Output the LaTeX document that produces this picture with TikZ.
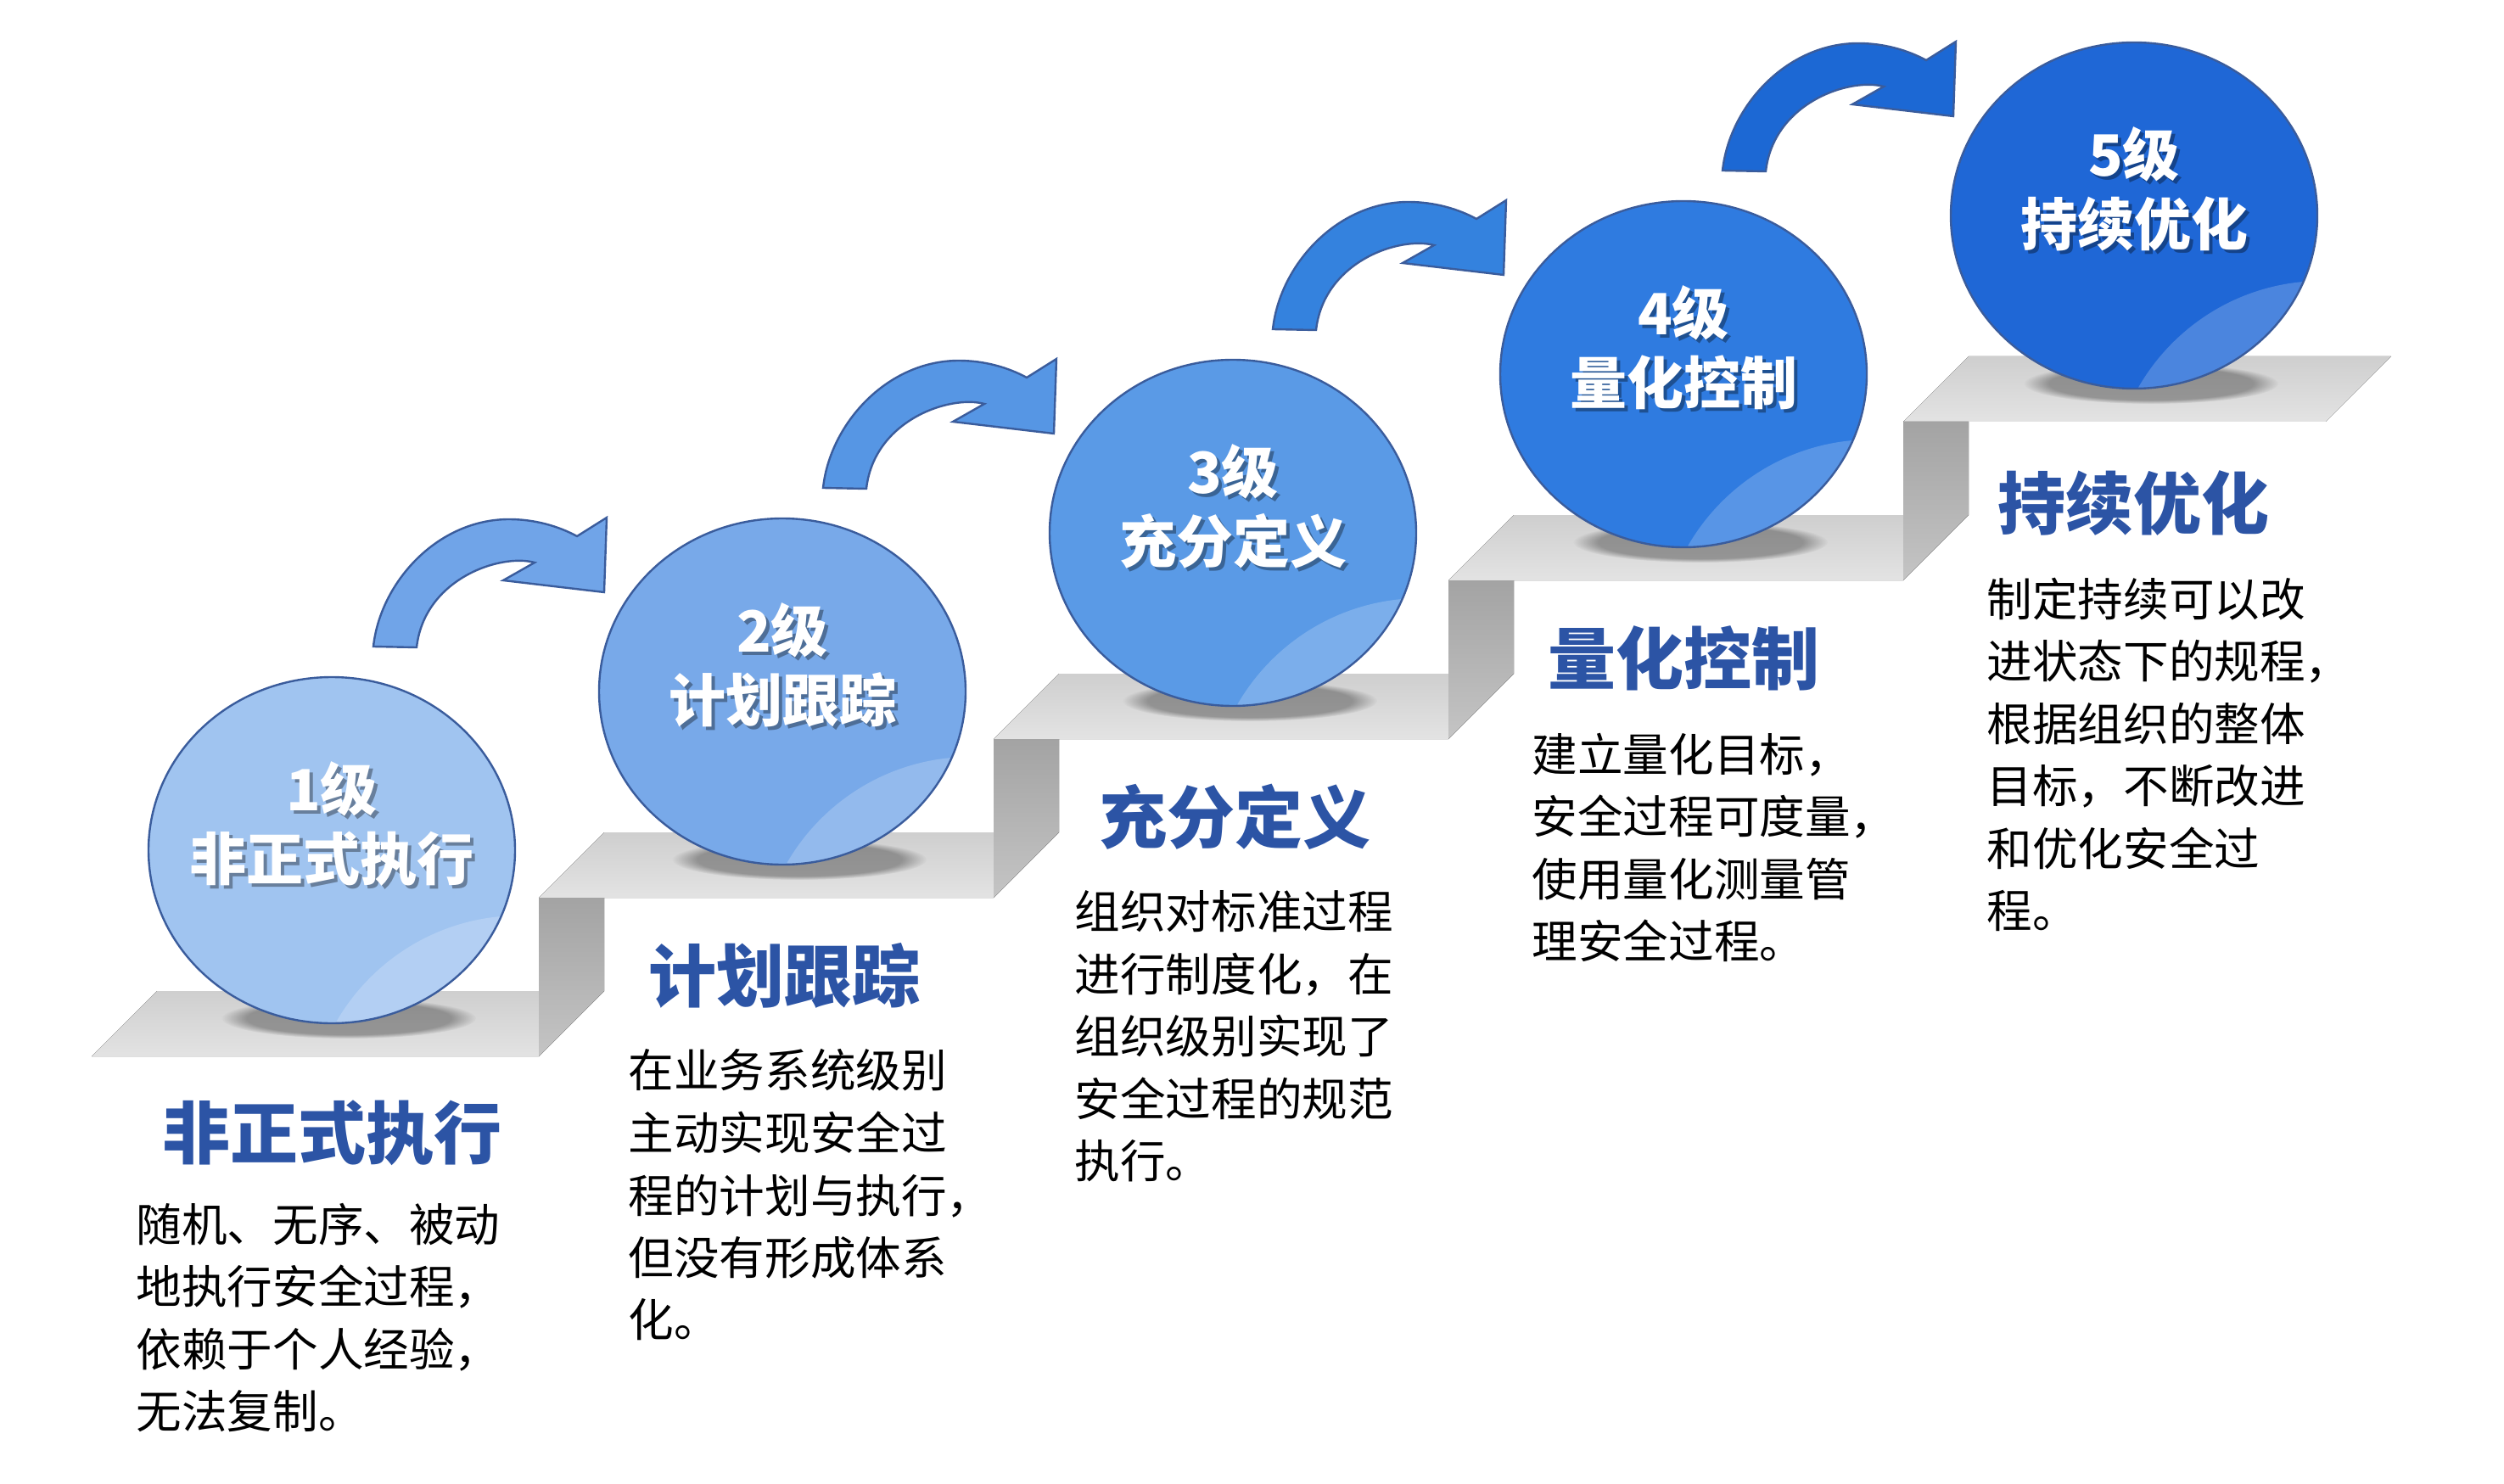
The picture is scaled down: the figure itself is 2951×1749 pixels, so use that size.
\documentclass[tikz,border=0pt]{standalone}
\usepackage{fontspec}
\setmainfont{Noto Sans CJK SC}
\usetikzlibrary{fadings}

\definecolor{lvA}{RGB}{160,196,240}
\definecolor{lvB}{RGB}{120,169,233}
\definecolor{lvC}{RGB}{90,154,230}
\definecolor{lvD}{RGB}{47,123,224}
\definecolor{lvE}{RGB}{31,103,214}
\definecolor{arA}{RGB}{112,164,232}
\definecolor{arB}{RGB}{86,150,228}
\definecolor{arC}{RGB}{52,130,222}
\definecolor{arD}{RGB}{28,104,212}
\definecolor{rimblue}{RGB}{58,92,156}
\definecolor{stepblue}{RGB}{44,84,165}

\tikzset{every picture/.style={line width=0.75pt}}
\tikzset{
  tread/.style={top color=gray!38, bottom color=gray!22, draw=none},
  riser/.style={top color=gray!72, bottom color=gray!46, draw=none},
  ballshadow/.style={fill=black, fill opacity=0.32, path fading=circle with fuzzy edge 20 percent},
  ballrim/.style={draw=rimblue, line width=1.2},
  glare/.style={fill=white, fill opacity=0.2},
  arrowbody/.style={draw=rimblue, line width=1.2},
  lvtext/.style={text=white, font=\fontsize{33.5}{41}\selectfont\bfseries, align=center, inner sep=0pt},
  lvshade/.style={lvtext, text=black, text opacity=0.35},
  steptitle/.style={text=stepblue, font=\fontsize{40}{48}\selectfont\bfseries, inner sep=0pt},
  steptext/.style={anchor=north west, align=left, inner sep=0pt, font=\fontsize{26.8}{36.75}\selectfont}
}

\begin{document}
\begin{tikzpicture}[x=0.5pt,y=0.5pt,yscale=-1,xscale=1]
	\useasboundingbox (0,0) rectangle (2951,1749);
	
	%Shape: Treads
	\fill [tread] (108,1245) -- (635,1245) -- (712,1168) -- (185,1168) -- cycle ;
	\fill [tread] (635,1058) -- (1171,1058) -- (1248,981) -- (712,981) -- cycle ;
	\fill [tread] (1171,871) -- (1707,871) -- (1784,794) -- (1248,794) -- cycle ;
	\fill [tread] (1707,684) -- (2243,684) -- (2320,607) -- (1784,607) -- cycle ;
	\fill [tread] (2243,497) -- (2741,497) -- (2818,420) -- (2320,420) -- cycle ;
	%Shape: Risers
	\fill [riser] (635,1245) -- (712,1168) -- (712,1058) -- (635,1058) -- cycle ;
	\fill [riser] (1171,1058) -- (1248,981) -- (1248,871) -- (1171,871) -- cycle ;
	\fill [riser] (1707,871) -- (1784,794) -- (1784,684) -- (1707,684) -- cycle ;
	\fill [riser] (2243,684) -- (2320,607) -- (2320,497) -- (2243,497) -- cycle ;
	
	%Shape: Ball shadows
	\fill [ballshadow] (411,1200) ellipse [x radius=150, y radius=24] ;
	\fill [ballshadow] (942,1013) ellipse [x radius=150, y radius=24] ;
	\fill [ballshadow] (1473,826) ellipse [x radius=150, y radius=24] ;
	\fill [ballshadow] (2004,639) ellipse [x radius=150, y radius=24] ;
	\fill [ballshadow] (2535,452) ellipse [x radius=150, y radius=24] ;
	
	%Shape: Circle [level 1]
	\fill [lvA] (391,1002) ellipse [x radius=216, y radius=204] ;
	\begin{scope}
		\clip (391,1002) ellipse [x radius=216, y radius=204] ;
		\fill [glare] (613,1329) circle [radius=250] ;
	\end{scope}
	\draw [ballrim] (391,1002) ellipse [x radius=216, y radius=204] ;
	%Shape: Circle [level 2]
	\fill [lvB] (922,815) ellipse [x radius=216, y radius=204] ;
	\begin{scope}
		\clip (922,815) ellipse [x radius=216, y radius=204] ;
		\fill [glare] (1144,1142) circle [radius=250] ;
	\end{scope}
	\draw [ballrim] (922,815) ellipse [x radius=216, y radius=204] ;
	%Shape: Circle [level 3]
	\fill [lvC] (1453,628) ellipse [x radius=216, y radius=204] ;
	\begin{scope}
		\clip (1453,628) ellipse [x radius=216, y radius=204] ;
		\fill [glare] (1675,955) circle [radius=250] ;
	\end{scope}
	\draw [ballrim] (1453,628) ellipse [x radius=216, y radius=204] ;
	%Shape: Circle [level 4]
	\fill [lvD] (1984,441) ellipse [x radius=216, y radius=204] ;
	\begin{scope}
		\clip (1984,441) ellipse [x radius=216, y radius=204] ;
		\fill [glare] (2206,768) circle [radius=250] ;
	\end{scope}
	\draw [ballrim] (1984,441) ellipse [x radius=216, y radius=204] ;
	%Shape: Circle [level 5]
	\fill [lvE] (2515,254) ellipse [x radius=216, y radius=204] ;
	\begin{scope}
		\clip (2515,254) ellipse [x radius=216, y radius=204] ;
		\fill [glare] (2737,581) circle [radius=250] ;
	\end{scope}
	\draw [ballrim] (2515,254) ellipse [x radius=216, y radius=204] ;
	
	%Shape: Curved Arrows
	\draw [arrowbody, fill=arA, shift={(440,762)}] (0,0) .. controls (8,-75) and (75,-150) .. (160,-150) .. controls (190,-150) and (218,-142) .. (240,-130) -- (275,-152) -- (272,-64) -- (153,-78) -- (190,-99) .. controls (150,-110) and (60,-80) .. (51,1) -- cycle ;
	\draw [arrowbody, fill=arB, shift={(970,575)}] (0,0) .. controls (8,-75) and (75,-150) .. (160,-150) .. controls (190,-150) and (218,-142) .. (240,-130) -- (275,-152) -- (272,-64) -- (153,-78) -- (190,-99) .. controls (150,-110) and (60,-80) .. (51,1) -- cycle ;
	\draw [arrowbody, fill=arC, shift={(1500,388)}] (0,0) .. controls (8,-75) and (75,-150) .. (160,-150) .. controls (190,-150) and (218,-142) .. (240,-130) -- (275,-152) -- (272,-64) -- (153,-78) -- (190,-99) .. controls (150,-110) and (60,-80) .. (51,1) -- cycle ;
	\draw [arrowbody, fill=arD, shift={(2030,201)}] (0,0) .. controls (8,-75) and (75,-150) .. (160,-150) .. controls (190,-150) and (218,-142) .. (240,-130) -- (275,-152) -- (272,-64) -- (153,-78) -- (190,-99) .. controls (150,-110) and (60,-80) .. (51,1) -- cycle ;
	
	% Text Node
	\node [lvshade] (lvonesh) at (395,975) {1级\\非正式执行};
	\node [lvtext] (lvone) at (391,971) {1级\\非正式执行};
	% Text Node
	\node [lvshade] (lvtwosh) at (926,788) {2级\\计划跟踪};
	\node [lvtext] (lvtwo) at (922,784) {2级\\计划跟踪};
	% Text Node
	\node [lvshade] (lvthreesh) at (1457,601) {3级\\充分定义};
	\node [lvtext] (lvthree) at (1453,597) {3级\\充分定义};
	% Text Node
	\node [lvshade] (lvfoursh) at (1988,414) {4级\\量化控制};
	\node [lvtext] (lvfour) at (1984,410) {4级\\量化控制};
	% Text Node
	\node [lvshade] (lvfivesh) at (2519,227) {5级\\持续优化};
	\node [lvtext] (lvfive) at (2515,223) {5级\\持续优化};
	
	% Text Node
	\node [steptitle] (titleone) at (391,1335) {非正式执行};
	\node [steptext] (textone) at (160,1417) {随机、无序、被动\\地执行安全过程，\\依赖于个人经验，\\无法复制。};
	% Text Node
	\node [steptitle] (titletwo) at (924,1150) {计划跟踪};
	\node [steptext] (texttwo) at (740,1236) {在业务系统级别\\主动实现安全过\\程的计划与执行，\\但没有形成体系\\化。};
	% Text Node
	\node [steptitle] (titlethree) at (1455,963) {充分定义};
	\node [steptext] (textthree) at (1266,1049) {组织对标准过程\\进行制度化，在\\组织级别实现了\\安全过程的规范\\执行。};
	% Text Node
	\node [steptitle] (titlefour) at (1984,776) {量化控制};
	\node [steptext] (textfour) at (1805,863) {建立量化目标，\\安全过程可度量，\\使用量化测量管\\理安全过程。};
	% Text Node
	\node [steptitle] (titlefive) at (2514,593) {持续优化};
	\node [steptext] (textfive) at (2341,680) {制定持续可以改\\进状态下的规程，\\根据组织的整体\\目标，不断改进\\和优化安全过\\程。};
	
\end{tikzpicture}
\end{document}
